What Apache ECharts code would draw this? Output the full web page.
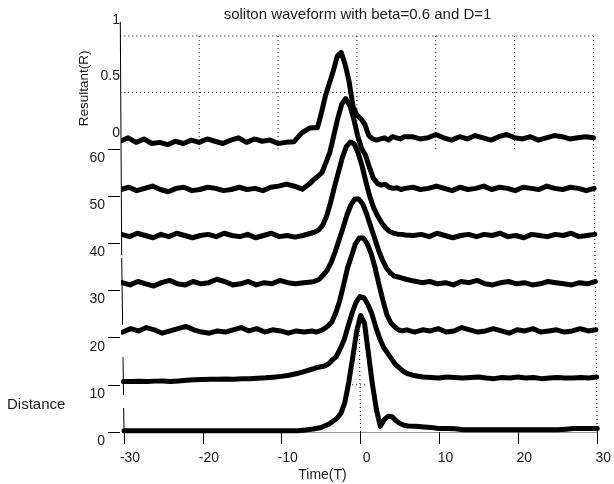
<!DOCTYPE html>
<html><head><meta charset="utf-8">
<script src="https://cdn.jsdelivr.net/npm/echarts@6/dist/echarts.min.js"></script>
<style>html,body{margin:0;padding:0;background:#fff}#c{width:614px;height:484px}</style>
</head><body><div id="c"></div>
<script>
// ---------- data ----------
const TIME = [-30,-29,-28,-27,-26,-25,-24,-23,-22,-21,-20,-19,-18,-17,-16,-15,-14,-13,-12,-11,-10,-9,-8,-7,
  -6,-5.5,-5,-4.5,-4,-3.5,-3,-2.5,-2,-1.5,-1,-0.5,0,0.5,1,1.5,2,2.5,3,3.5,4,4.5,5,5.5,6,
  7,8,9,10,11,12,13,14,15,16,17,18,19,20,21,22,23,24,25,26,27,28,29,30];
const DISTANCES = [0,10,20,30,40,50,60];
const R0 = [0.01,0.01,0.01,0.01,0.01,0.01,0.01,0.01,0.01,0.01,0.01,0.01,0.01,0.01,0.01,0.01,0.01,0.01,0.01,0.01,0.01,0.01,0.012,0.018,
  0.027,0.033,0.04,0.055,0.07,0.095,0.12,0.165,0.26,0.44,0.66,0.89,1.03,0.96,0.69,0.42,0.2,0.05,0.11,0.14,0.135,0.1,0.075,0.06,0.053,
  0.05,0.045,0.04,0.03,0.03,0.028,0.02,0.02,0.02,0.02,0.02,0.02,0.02,0.02,0.02,0.02,0.02,0.02,0.02,0.025,0.03,0.03,0.03,0.03];
const R10 = [0.03,0.03,0.032,0.03,0.033,0.035,0.03,0.035,0.04,0.045,0.048,0.05,0.05,0.052,0.05,0.053,0.055,0.058,0.062,0.068,0.075,0.085,0.1,0.12,
  0.14,0.152,0.16,0.166,0.184,0.22,0.25,0.32,0.4,0.52,0.635,0.73,0.78,0.77,0.71,0.63,0.51,0.41,0.33,0.28,0.23,0.18,0.15,0.12,0.1,
  0.08,0.07,0.065,0.06,0.07,0.065,0.06,0.065,0.07,0.06,0.055,0.065,0.06,0.07,0.06,0.065,0.055,0.06,0.065,0.06,0.06,0.065,0.06,0.07];
const R20 = [0.05,0.08,0.06,0.09,0.07,0.04,0.06,0.08,0.1,0.07,0.05,0.04,0.06,0.05,0.07,0.09,0.06,0.08,0.05,0.07,0.06,0.04,0.06,0.05,
  0.06,0.05,0.06,0.077,0.104,0.139,0.219,0.325,0.466,0.617,0.723,0.83,0.882,0.882,0.83,0.742,0.617,0.466,0.325,0.2,0.13,0.095,0.068,0.06,0.07,
  0.05,0.07,0.06,0.08,0.05,0.06,0.09,0.07,0.05,0.06,0.08,0.06,0.04,0.07,0.06,0.08,0.05,0.06,0.07,0.05,0.06,0.08,0.06,0.07];
const R30 = [0.07,0.05,0.08,0.06,0.04,0.07,0.09,0.06,0.05,0.08,0.06,0.07,0.1,0.08,0.05,0.06,0.08,0.05,0.07,0.06,0.09,0.07,0.06,0.07,
  0.075,0.085,0.1,0.137,0.18,0.25,0.34,0.447,0.553,0.668,0.756,0.81,0.81,0.765,0.677,0.57,0.465,0.358,0.27,0.2,0.155,0.128,0.12,0.11,0.1,
  0.084,0.07,0.08,0.06,0.07,0.05,0.08,0.07,0.09,0.06,0.05,0.07,0.08,0.06,0.07,0.05,0.06,0.08,0.07,0.06,0.05,0.07,0.06,0.08];
const R40 = [0.08,0.06,0.09,0.07,0.05,0.08,0.06,0.09,0.07,0.05,0.07,0.08,0.06,0.09,0.07,0.06,0.08,0.05,0.07,0.09,0.06,0.07,0.056,0.07,
  0.09,0.1,0.12,0.16,0.24,0.36,0.5,0.63,0.76,0.855,0.896,0.88,0.8,0.684,0.54,0.41,0.31,0.24,0.18,0.135,0.105,0.09,0.082,0.08,0.075,
  0.07,0.08,0.06,0.09,0.07,0.05,0.07,0.08,0.06,0.08,0.07,0.09,0.06,0.07,0.05,0.08,0.07,0.06,0.08,0.07,0.09,0.06,0.07,0.08];
const R50 = [0.06,0.08,0.05,0.07,0.09,0.06,0.04,0.07,0.08,0.05,0.06,0.08,0.07,0.05,0.06,0.08,0.06,0.07,0.05,0.08,0.09,0.107,0.089,0.063,
  0.116,0.15,0.178,0.21,0.3,0.39,0.54,0.69,0.815,0.864,0.806,0.69,0.54,0.425,0.364,0.258,0.16,0.116,0.098,0.107,0.08,0.07,0.075,0.06,0.07,
  0.08,0.06,0.07,0.09,0.07,0.05,0.08,0.06,0.07,0.09,0.06,0.08,0.07,0.05,0.08,0.07,0.06,0.09,0.07,0.06,0.08,0.07,0.05,0.07];
const R60 = [0.07,0.1,0.06,0.09,0.05,0.06,0.04,0.07,0.05,0.08,0.06,0.09,0.07,0.05,0.08,0.1,0.06,0.09,0.07,0.08,0.05,0.06,0.065,0.144,
  0.186,0.19,0.19,0.32,0.47,0.58,0.69,0.82,0.855,0.75,0.6,0.38,0.3,0.27,0.22,0.12,0.09,0.08,0.09,0.1,0.08,0.11,0.1,0.09,0.11,
  0.11,0.09,0.1,0.13,0.1,0.08,0.11,0.09,0.12,0.1,0.08,0.11,0.13,0.1,0.09,0.11,0.08,0.1,0.12,0.11,0.09,0.1,0.11,0.1];
const ROWS = [R0, R10, R20, R30, R40, R50, R60];
const TIME_TICKS = [-30,-20,-10,0,10,20,30];
const DIST_TICKS = [0,10,20,30,40,50,60];
const Z_TICKS = [0,0.5,1];

// ---------- projection (oblique 3D view) ----------
const SKEW = 0.0078;   // leftward time shift per distance unit
const ZS = 24;         // plot units per unit of resultant
function proj(t, d, z) { return [t - SKEW * d, d + ZS * z]; }

const FONT = '"Liberation Sans", Arial, Helvetica, sans-serif';
const TXT = '#1a1a1a';

const dotted = [];
dotted.push({coords: [proj(-30, 60, 1), proj(30, 60, 1)]});
dotted.push({coords: [proj(-30, 60, 0.5), proj(30, 60, 0.5)]});
TIME_TICKS.filter(t => t > -30).forEach(t => dotted.push({coords: [proj(t, 60, 0), proj(t, 60, 1)]}));
dotted.push({coords: [proj(30, 0, 0), proj(30, 60, 0)]});
dotted.push({coords: [proj(0, 0, 0), proj(0, 23.8, 0)]});
dotted.push({coords: [proj(-1, 10, 0), proj(0.75, 10, 0)]});

// visible pieces of the left edge (plot-space heights)
const LEFT_EDGE = [[87, 37.5], [36.9, 22.7], [15.9, 7.85], [5.1, 0]];
const solid = LEFT_EDGE.map(([a, b]) => ({coords: [[-30 - SKEW * Math.min(a, 60), a], [-30 - SKEW * Math.min(b, 60), b]]}));

const rowSeries = DISTANCES.map((d, i) => ({
  type: 'line', xAxisIndex: 0, yAxisIndex: 0,
  data: TIME.map((t, j) => proj(t, d, ROWS[i][j])),
  showSymbol: false, silent: true, z: 5, clip: false,
  lineStyle: {color: '#000', width: 5, join: 'round', cap: 'round'}
})).reverse();

const chart = echarts.init(document.getElementById('c'), null, {renderer: 'canvas'});
chart.setOption({
  animation: false,
  backgroundColor: '#fff',
  grid: [
    {left: 124, right: 16, top: 36, bottom: 52},
    {left: 124, right: 16, top: 20, height: 113},
    {left: 124, right: 16, top: 149.2, bottom: 52}
  ],
  xAxis: [
    {gridIndex: 0, type: 'value', min: -30, max: 30, interval: 10,
     axisLine: {show: true, onZero: false, lineStyle: {color: '#999', width: 1}},
     axisTick: {show: true, length: 12, lineStyle: {color: '#000'}},
     axisLabel: {margin: 19, fontSize: 14, fontFamily: FONT, color: TXT, padding: [0, 0, 0, 12]},
     splitLine: {show: false}},
    {gridIndex: 1, type: 'value', min: -30, max: 30, show: false, axisLine: {onZero: false}},
    {gridIndex: 2, type: 'value', min: -30, max: 30, show: false, axisLine: {onZero: false}}
  ],
  yAxis: [
    {gridIndex: 0, type: 'value', min: 0, max: 84, show: false, axisLine: {onZero: false}},
    {gridIndex: 1, type: 'value', min: 0, max: 1, interval: 0.5, position: 'left',
     axisLine: {show: false, onZero: false}, axisTick: {show: false}, splitLine: {show: false},
     axisLabel: {margin: 4, fontSize: 14, fontFamily: FONT, color: TXT}},
    {gridIndex: 2, type: 'value', min: 0, max: 60, interval: 10, offset: 4, position: 'left',
     axisLine: {show: false, onZero: false}, splitLine: {show: false},
     axisTick: {show: true, length: 12, lineStyle: {color: '#000'}},
     axisLabel: {margin: 15, fontSize: 14, fontFamily: FONT, color: TXT, verticalAlign: 'top', lineHeight: 18}}
  ],
  graphic: [
    {type: 'text', x: 357.5, y: 15, style: {text: 'soliton waveform with beta=0.6 and D=1', font: '15px ' + FONT, fill: TXT, textAlign: 'center', textVerticalAlign: 'middle'}},
    {type: 'text', x: 7, y: 404.5, style: {text: 'Distance', font: '15px ' + FONT, fill: TXT, textAlign: 'left', textVerticalAlign: 'middle'}},
    {type: 'text', x: 322.5, y: 475, style: {text: 'Time(T)', font: '14px ' + FONT, fill: TXT, textAlign: 'center', textVerticalAlign: 'middle'}},
    {type: 'text', x: 84.5, y: 88.3, rotation: Math.PI / 2, style: {text: 'Resultant(R)', font: '13.5px ' + FONT, fill: TXT, textAlign: 'center', textVerticalAlign: 'middle'}}
  ],
  series: [
    {type: 'lines', coordinateSystem: 'cartesian2d', xAxisIndex: 0, yAxisIndex: 0, polyline: true, silent: true, z: 1, clip: false,
     lineStyle: {color: '#000', width: 1, type: [1, 3], opacity: 1}, data: dotted},
    {type: 'lines', coordinateSystem: 'cartesian2d', xAxisIndex: 0, yAxisIndex: 0, polyline: true, silent: true, z: 2, clip: false,
     lineStyle: {color: '#000', width: 1, opacity: 1}, data: solid}
  ].concat(rowSeries)
});
</script>
</body></html>
